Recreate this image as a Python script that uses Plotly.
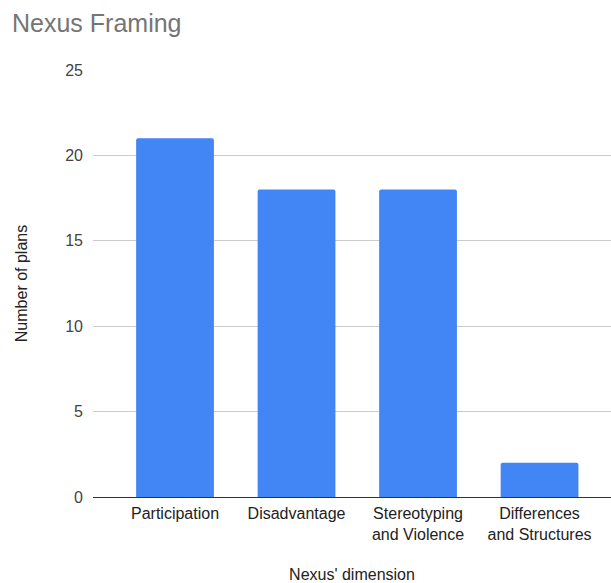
import plotly.graph_objects as go

# Plans per Nexus dimension
dimensions = ["Participation", "Disadvantage", "Stereotyping<br>and Violence", "Differences<br>and Structures"]
plan_counts = [21, 18, 18, 2]
y_ticks = [0, 5, 10, 15, 20, 25]

FONT = "Liberation Sans, Arial, sans-serif"

fig = go.Figure(
    go.Bar(
        x=dimensions,
        y=plan_counts,
        marker=dict(color="#4285f4", line=dict(width=0)),
        width=0.64,
        hoverinfo="x+y",
    )
)

fig.update_layout(
    width=611,
    height=583,
    margin=dict(l=93, r=0, t=70, b=86),
    paper_bgcolor="white",
    plot_bgcolor="white",
    barcornerradius=2,
    showlegend=False,
    font=dict(family=FONT, size=16, color="#222222"),
    title=dict(
        text="Nexus Framing",
        x=12 / 611,
        xanchor="left",
        y=1 - 23 / 583,
        yanchor="middle",
        font=dict(family=FONT, size=25, color="#757575"),
    ),
)

fig.update_xaxes(
    range=[-0.675, 3.588],
    showgrid=False,
    showline=False,
    ticks="",
    ticklabelstandoff=5,
    tickfont=dict(family=FONT, size=16, color="#222222"),
    title=dict(text="Nexus' dimension", standoff=27,
               font=dict(family=FONT, size=16, color="#222222")),
)

fig.update_yaxes(
    range=[0, 25],
    tickvals=y_ticks,
    showgrid=True,
    gridcolor="#cccccc",
    gridwidth=1,
    zeroline=True,
    zerolinecolor="#333333",
    zerolinewidth=1,
    showline=False,
    ticks="",
    ticklabelstandoff=9,
    tickfont=dict(family=FONT, size=16, color="#444444"),
    title=dict(text="Number of plans", standoff=33,
               font=dict(family=FONT, size=16, color="#222222")),
)

fig.write_html("out.html")
